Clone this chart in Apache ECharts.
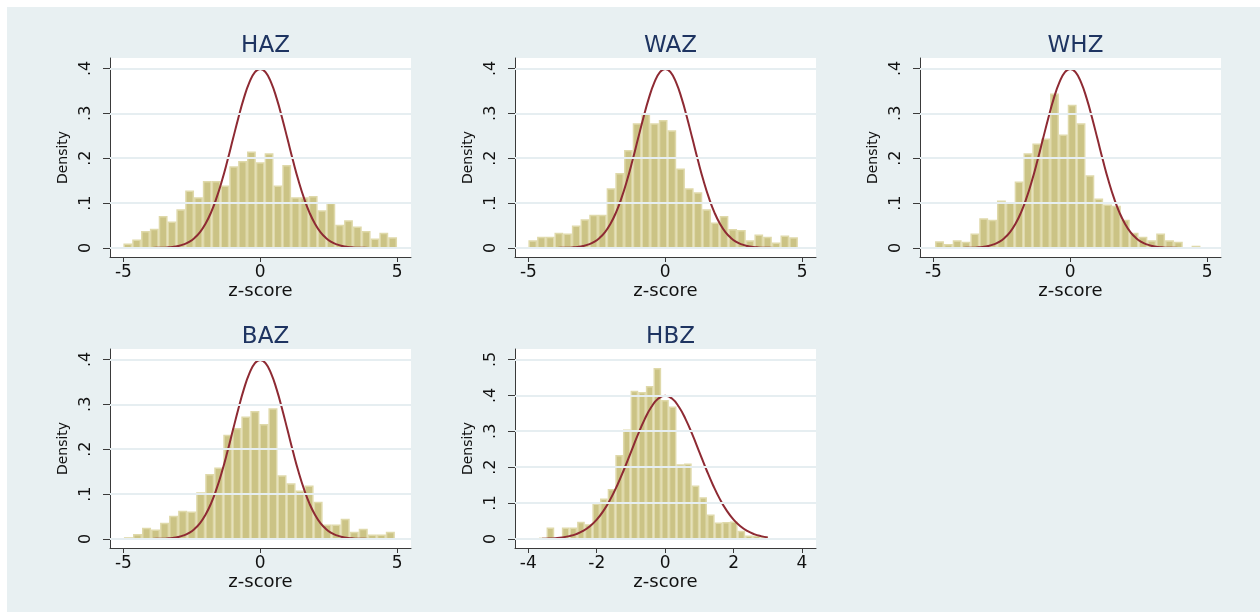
<!DOCTYPE html>
<html>
<head>
<meta charset="utf-8">
<script src="https://cdn.jsdelivr.net/npm/echarts@6.0.0/dist/echarts.min.js"></script>
<style>
  html, body { margin: 0; padding: 0; background: #ffffff; }
  #wrap { position: relative; width: 1260px; height: 613px; }
  #bg { position: absolute; left: 7px; top: 7px; width: 1253px; height: 605px; background: #e8f0f2; }
  #chart { position: absolute; left: 0; top: 0; width: 1260px; height: 613px; }
</style>
</head>
<body>
<div id="wrap"><div id="bg"></div><div id="chart"></div></div>
<script>
// ---- data ----
const panelTitles = ['HAZ', 'WAZ', 'WHZ', 'BAZ', 'HBZ'];
const binStart = [-5.0, -5.0, -4.94, -4.98, -3.69];
const binWidth = [0.32258, 0.3177, 0.3233, 0.33, 0.2233];

const hazHeights = [0.010, 0.019, 0.038, 0.043, 0.071, 0.059, 0.086, 0.128, 0.113, 0.149, 0.149,
  0.139, 0.182, 0.194, 0.215, 0.191, 0.211, 0.139, 0.185, 0.113, 0.113, 0.116, 0.084, 0.101,
  0.052, 0.062, 0.048, 0.038, 0.021, 0.034, 0.024];
const wazHeights = [0.017, 0.025, 0.025, 0.034, 0.032, 0.050, 0.064, 0.074, 0.074, 0.133, 0.167,
  0.218, 0.278, 0.300, 0.278, 0.285, 0.262, 0.177, 0.133, 0.124, 0.086, 0.057, 0.071, 0.042,
  0.040, 0.017, 0.030, 0.025, 0.012, 0.028, 0.024];
const whzHeights = [0.015, 0.009, 0.017, 0.014, 0.032, 0.066, 0.063, 0.106, 0.102, 0.148, 0.211,
  0.233, 0.244, 0.344, 0.253, 0.319, 0.278, 0.162, 0.110, 0.097, 0.094, 0.063, 0.034, 0.025,
  0.017, 0.032, 0.017, 0.014, 0.0, 0.005];
const bazHeights = [0.004, 0.011, 0.025, 0.021, 0.036, 0.052, 0.063, 0.061, 0.104, 0.145, 0.159,
  0.232, 0.247, 0.273, 0.285, 0.256, 0.291, 0.142, 0.124, 0.108, 0.119, 0.083, 0.032, 0.032,
  0.045, 0.016, 0.023, 0.010, 0.010, 0.016];
const hbzHeights = [0.004, 0.032, 0.0, 0.032, 0.032, 0.048, 0.041, 0.099, 0.113, 0.139, 0.234,
  0.305, 0.413, 0.409, 0.426, 0.476, 0.387, 0.369, 0.208, 0.210, 0.149, 0.116, 0.068, 0.046,
  0.047, 0.049, 0.023, 0.010, 0.010, 0.007];
const allHeights = [hazHeights, wazHeights, whzHeights, bazHeights, hbzHeights];

// normal density overlay
const curveX = [-5.0, -4.8, -4.6, -4.4, -4.2, -4.0, -3.8, -3.6, -3.4, -3.2, -3.0, -2.8, -2.6, -2.4,
  -2.2, -2.0, -1.8, -1.6, -1.4, -1.2, -1.0, -0.8, -0.6, -0.4, -0.2, 0.0, 0.2, 0.4, 0.6, 0.8, 1.0,
  1.2, 1.4, 1.6, 1.8, 2.0, 2.2, 2.4, 2.6, 2.8, 3.0, 3.2, 3.4, 3.6, 3.8, 4.0, 4.2, 4.4, 4.6, 4.8, 5.0];
const curveY = [0.000002, 0.000004, 0.00001, 0.00002, 0.00006, 0.00013, 0.00029, 0.00061, 0.00123,
  0.00238, 0.00443, 0.00792, 0.01358, 0.02239, 0.03547, 0.05399, 0.07895, 0.11092, 0.14973,
  0.19419, 0.24197, 0.28969, 0.33322, 0.36827, 0.39104, 0.39894, 0.39104, 0.36827, 0.33322,
  0.28969, 0.24197, 0.19419, 0.14973, 0.11092, 0.07895, 0.05399, 0.03547, 0.02239, 0.01358,
  0.00792, 0.00443, 0.00238, 0.00123, 0.00061, 0.00029, 0.00013, 0.00006, 0.00002, 0.00001,
  0.000004, 0.000002];

const xTicksA = [-5, 0, 5];
const xTicksB = [-4, -2, 0, 2, 4];
const yTicksA = [0, 0.1, 0.2, 0.3, 0.4];
const yTicksB = [0, 0.1, 0.2, 0.3, 0.4, 0.5];
const xAxisTitle = 'z-score';
const yAxisTitle = 'Density';

// ---- layout ----
const FONT = 'DejaVu Sans';
const gridPos = [
  {left: 110, top: 58}, {left: 515, top: 58}, {left: 920, top: 58},
  {left: 110, top: 349}, {left: 515, top: 349}
];
const xRange = [[-5.49, 5.51], [-5.49, 5.51], [-5.49, 5.51], [-5.49, 5.51], [-4.39, 4.41]];
const yRange = [[-0.0201, 0.4232], [-0.0201, 0.4232], [-0.0201, 0.4232], [-0.0201, 0.4232], [-0.0251, 0.529]];
const xTicks = [xTicksA, xTicksA, xTicksA, xTicksA, xTicksB];
const yTicks = [yTicksA, yTicksA, yTicksA, yTicksA, yTicksB];

const BAR_FILL = '#cbc385';
const BAR_EDGE = '#dfd9aa';
const CURVE = '#8e2a33';
const AXIS = '#3a3a3a';
const GRIDLINE = '#e6eef1';

function fmtY(v) {
  if (v === 0) return '0';
  return String(Math.round(v * 10) / 10).replace('0.', '.');
}

const grids = [], xAxes = [], yAxes = [], series = [], titles = [];
for (let p = 0; p < 5; p++) {
  grids.push({left: gridPos[p].left, top: gridPos[p].top, width: 301, height: 199,
    show: true, backgroundColor: '#ffffff', borderWidth: 0, containLabel: false});
  titles.push({text: panelTitles[p], left: gridPos[p].left + 150.5, top: gridPos[p].top - 28,
    textAlign: 'center',
    textStyle: {fontFamily: FONT, fontSize: 23, fontWeight: 'normal', color: '#1e3461'}});
  xAxes.push({type: 'value', gridIndex: p, min: xRange[p][0], max: xRange[p][1],
    axisLine: {show: true, onZero: false, lineStyle: {color: AXIS, width: 1}},
    axisTick: {show: true, length: 5, customValues: xTicks[p], lineStyle: {color: AXIS}},
    axisLabel: {show: true, customValues: xTicks[p], margin: 7, fontFamily: FONT, fontSize: 17,
      color: '#111'},
    splitLine: {show: false},
    name: xAxisTitle, nameLocation: 'middle', nameGap: 19,
    nameTextStyle: {fontFamily: FONT, fontSize: 18, color: '#111'}});
  yAxes.push({type: 'value', gridIndex: p, min: yRange[p][0], max: yRange[p][1],
    axisLine: {show: true, onZero: false, lineStyle: {color: AXIS, width: 1}},
    axisTick: {show: true, length: 7, customValues: yTicks[p], lineStyle: {color: AXIS}},
    axisLabel: {show: true, customValues: yTicks[p], rotate: 90, margin: 16, fontFamily: FONT,
      fontSize: 16, color: '#111', formatter: fmtY},
    splitLine: {show: false},
    name: yAxisTitle, nameLocation: 'middle', nameGap: 40, nameRotate: 90,
    nameTextStyle: {fontFamily: FONT, fontSize: 14, color: '#111'}});

  // gridlines
  series.push({type: 'line', xAxisIndex: p, yAxisIndex: p, data: [], z: 1, silent: true,
    markLine: {silent: true, symbol: 'none', label: {show: false},
      lineStyle: {color: GRIDLINE, width: 2, type: 'solid'},
      data: yTicks[p].map(v => ({yAxis: v}))}});

  // histogram bars
  const h = allHeights[p];
  const barData = h.map((v, i) => [binStart[p] + i * binWidth[p], binStart[p] + (i + 1) * binWidth[p], v]);
  series.push({type: 'custom', xAxisIndex: p, yAxisIndex: p, z: 2, silent: true,
    encode: {x: [0, 1], y: 2},
    data: barData,
    renderItem: function (params, api) {
      const x0 = api.value(0), x1 = api.value(1), hv = api.value(2);
      if (!(hv > 0)) return null;
      const a = api.coord([x0, 0]);
      const b = api.coord([x1, hv]);
      return {type: 'rect',
        shape: {x: a[0] + 0.75, y: b[1] + 0.75, width: b[0] - a[0] - 1.5, height: a[1] - b[1] - 0.75},
        style: {fill: BAR_FILL, stroke: BAR_EDGE, lineWidth: 1.5}};
    }});

  // normal curve
  const lo = binStart[p] - 0.05, hi = binStart[p] + h.length * binWidth[p] + 0.05;
  const cdata = [];
  for (let i = 0; i < curveX.length; i++) {
    if (curveX[i] >= lo && curveX[i] <= hi) cdata.push([curveX[i], curveY[i]]);
  }
  series.push({type: 'line', xAxisIndex: p, yAxisIndex: p, z: 3, silent: true, data: cdata,
    smooth: true, showSymbol: false, symbol: 'none',
    lineStyle: {color: CURVE, width: 2}});
}

const chart = echarts.init(document.getElementById('chart'), null, {renderer: 'canvas'});
chart.setOption({
  backgroundColor: 'transparent',
  animation: false,
  title: titles,
  grid: grids,
  xAxis: xAxes,
  yAxis: yAxes,
  series: series
});
</script>
</body>
</html>
